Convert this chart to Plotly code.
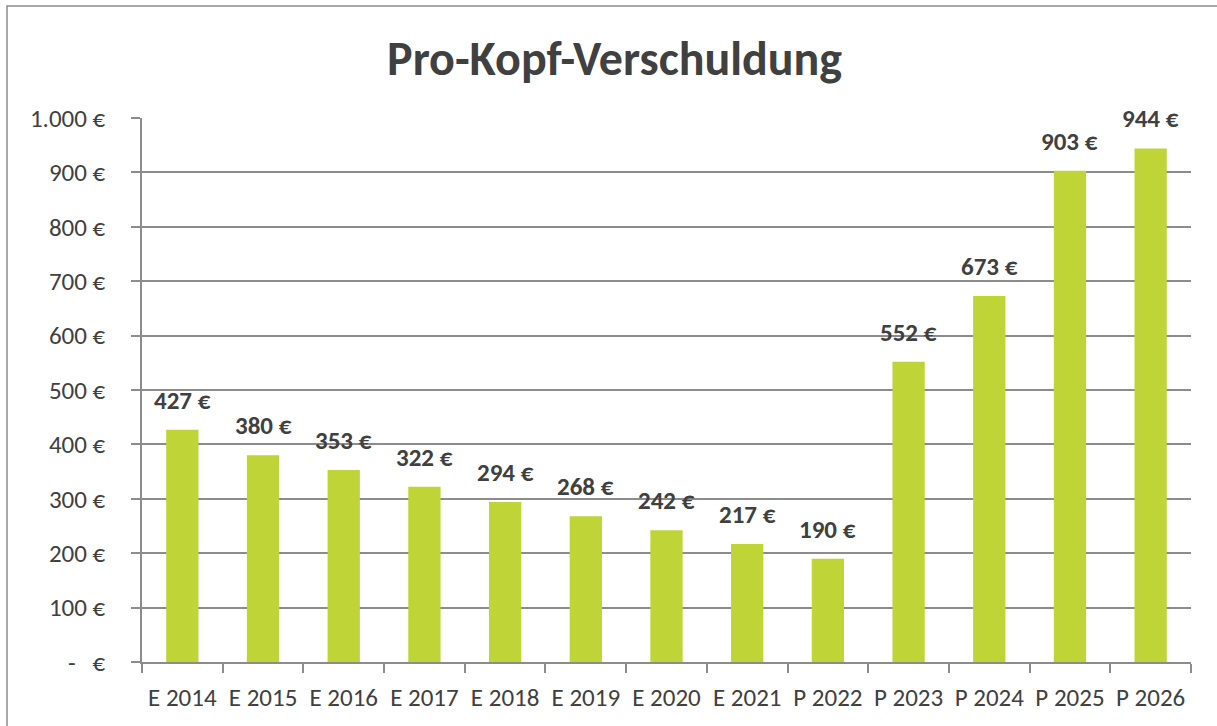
import plotly.graph_objects as go

categories = ["E 2014", "E 2015", "E 2016", "E 2017", "E 2018", "E 2019", "E 2020",
              "E 2021", "P 2022", "P 2023", "P 2024", "P 2025", "P 2026"]
values = [427, 380, 353, 322, 294, 268, 242, 217, 190, 552, 673, 903, 944]
ytick_vals = [0, 100, 200, 300, 400, 500, 600, 700, 800, 900, 1000]
ytick_text = ["-   €", "100 €", "200 €", "300 €", "400 €", "500 €", "600 €",
              "700 €", "800 €", "900 €", "1.000 €"]
value_labels = [f"{v} €" for v in values]

FONT = "Carlito, Lato, sans-serif"
TXT = "#404040"
GRID = "#8c8c8c"

fig = go.Figure()
fig.add_trace(go.Bar(
    x=categories, y=values, marker=dict(color="#BED437", line=dict(width=0)),
    width=0.4, showlegend=False, hoverinfo="skip"))

for c, v, t in zip(categories, values, value_labels):
    fig.add_annotation(x=c, y=v, text=f"<b>{t}</b>", showarrow=False,
                       yanchor="bottom", yshift=12,
                       font=dict(family=FONT, size=25, color=TXT))

W, H = 1217, 726
l, r, t, b = 142, 26, 118, 64
pw, ph = W - l - r, H - t - b

fig.add_shape(type="rect", xref="paper", yref="paper",
              x0=(7 - l) / pw, x1=(W + 20 - l) / pw,
              y0=-(b + 20) / ph, y1=(H - b - 6) / ph,
              line=dict(color="#8c8c8c", width=1.5), fillcolor="rgba(0,0,0,0)", layer="below")

fig.update_layout(
    width=W, height=H,
    margin=dict(l=l, r=r, t=t, b=b, autoexpand=False),
    paper_bgcolor="white", plot_bgcolor="white",
    title=dict(text="<b>Pro-Kopf-Verschuldung</b>", x=0.505, xanchor="center",
               y=1 - 58 / H, yanchor="middle",
               font=dict(family=FONT, size=48, color=TXT)),
    font=dict(family=FONT, size=25, color=TXT),
    xaxis=dict(showline=True, linecolor=GRID, linewidth=1.5, ticks="outside",
               tickson="boundaries", ticklen=9, tickcolor=GRID, tickwidth=1.5,
               showgrid=False, ticklabelstandoff=12, tickangle=0,
               tickfont=dict(family=FONT, size=25, color=TXT)),
    yaxis=dict(range=[0, 1000], tickvals=ytick_vals, ticktext=ytick_text,
               showline=True, linecolor=GRID, linewidth=1.5,
               ticks="outside", ticklen=9, tickcolor=GRID, tickwidth=1.5,
               showgrid=True, gridcolor=GRID, gridwidth=1.5, zeroline=False,
               ticklabelstandoff=21,
               tickfont=dict(family=FONT, size=25, color=TXT)),
    bargap=0.6,
)

fig.write_html("out.html", config={"displayModeBar": False},
               post_script="document.body.style.margin='0px';")
